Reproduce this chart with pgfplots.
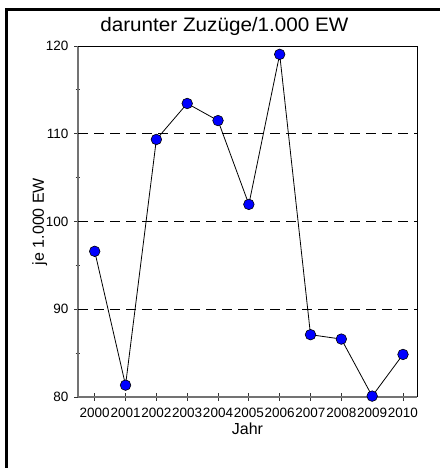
\documentclass[border=0pt]{standalone}
\usepackage{fontspec}
\setmainfont{Liberation Sans}
\newfontfamily\titlefont[FakeStretch=1.06]{Liberation Sans}
\usepackage{pgfplots}
\pgfplotsset{compat=1.18}
\begin{document}
\begin{tikzpicture}[x=1pt,y=1pt]
\path[use as bounding box] (0,0) rectangle (440,468);
\draw[line width=3pt, line join=miter] (6.5,0) -- (6.5,458.5) -- (440,458.5);
\begin{axis}[
  scale only axis,
  width=339pt, height=351pt,
  at={(78pt,71pt)}, anchor=south west,
  xmin=1999.458, xmax=2010.454,
  ymin=80, ymax=120,
  axis x line=bottom, axis y line=left,
  axis line style={-, draw=black!55, line width=1.4pt},
  xtick={2000,...,2010},
  ytick={80,90,100,110,120},
  minor ytick={85,95,105,115},
  tick align=center,
  major tick length=8pt, minor tick length=5pt,
  tick style={black!80, line width=0.8pt},
  x tick label style={/pgf/number format/1000 sep={}},
  /pgf/number format/assume math mode=true,
  xticklabel style={font=\fontsize{13.5}{13.5}\selectfont, anchor=base, inner sep=0pt, yshift=-17pt},
  yticklabel style={font=\fontsize{13.5}{13.5}\selectfont, anchor=east, inner sep=0pt, xshift=-5.3pt},
  extra y ticks={90,100,110},
  extra y tick labels={},
  extra y tick style={grid=major, major tick length=0pt},
  major grid style={black, line width=1pt, dash pattern=on 10pt off 6pt},
  title={\titlefont darunter Zuzüge/1.000 EW},
  title style={font=\fontsize{19.5}{19.5}\selectfont, at={(axis description cs:0.432,1.0237)}, anchor=base, inner sep=0pt},
  xlabel={Jahr},
  xlabel style={font=\fontsize{16}{16}\selectfont, at={(axis description cs:0.5,-0.1063)}, anchor=base, inner sep=0pt},
  ylabel={je 1.000 EW},
  ylabel style={font=\fontsize{16}{16}\selectfont, at={(axis description cs:-0.1003,0.5)}, anchor=base, inner sep=0pt},
  clip=false,
]
\addplot[black, line width=0.8pt, mark=*, mark size=5.3pt,
  mark options={fill=blue, draw=black, line width=0.6pt}]
coordinates {
 (2000,96.6) (2001,81.35) (2002,109.35) (2003,113.45) (2004,111.5)
 (2005,101.95) (2006,119.05) (2007,87.1) (2008,86.6) (2009,80.1) (2010,84.85)
};
\draw[black, line width=0.9pt] (rel axis cs:0,1) -- (rel axis cs:1,1) -- (rel axis cs:1,0);
\end{axis}
\end{tikzpicture}
\end{document}
